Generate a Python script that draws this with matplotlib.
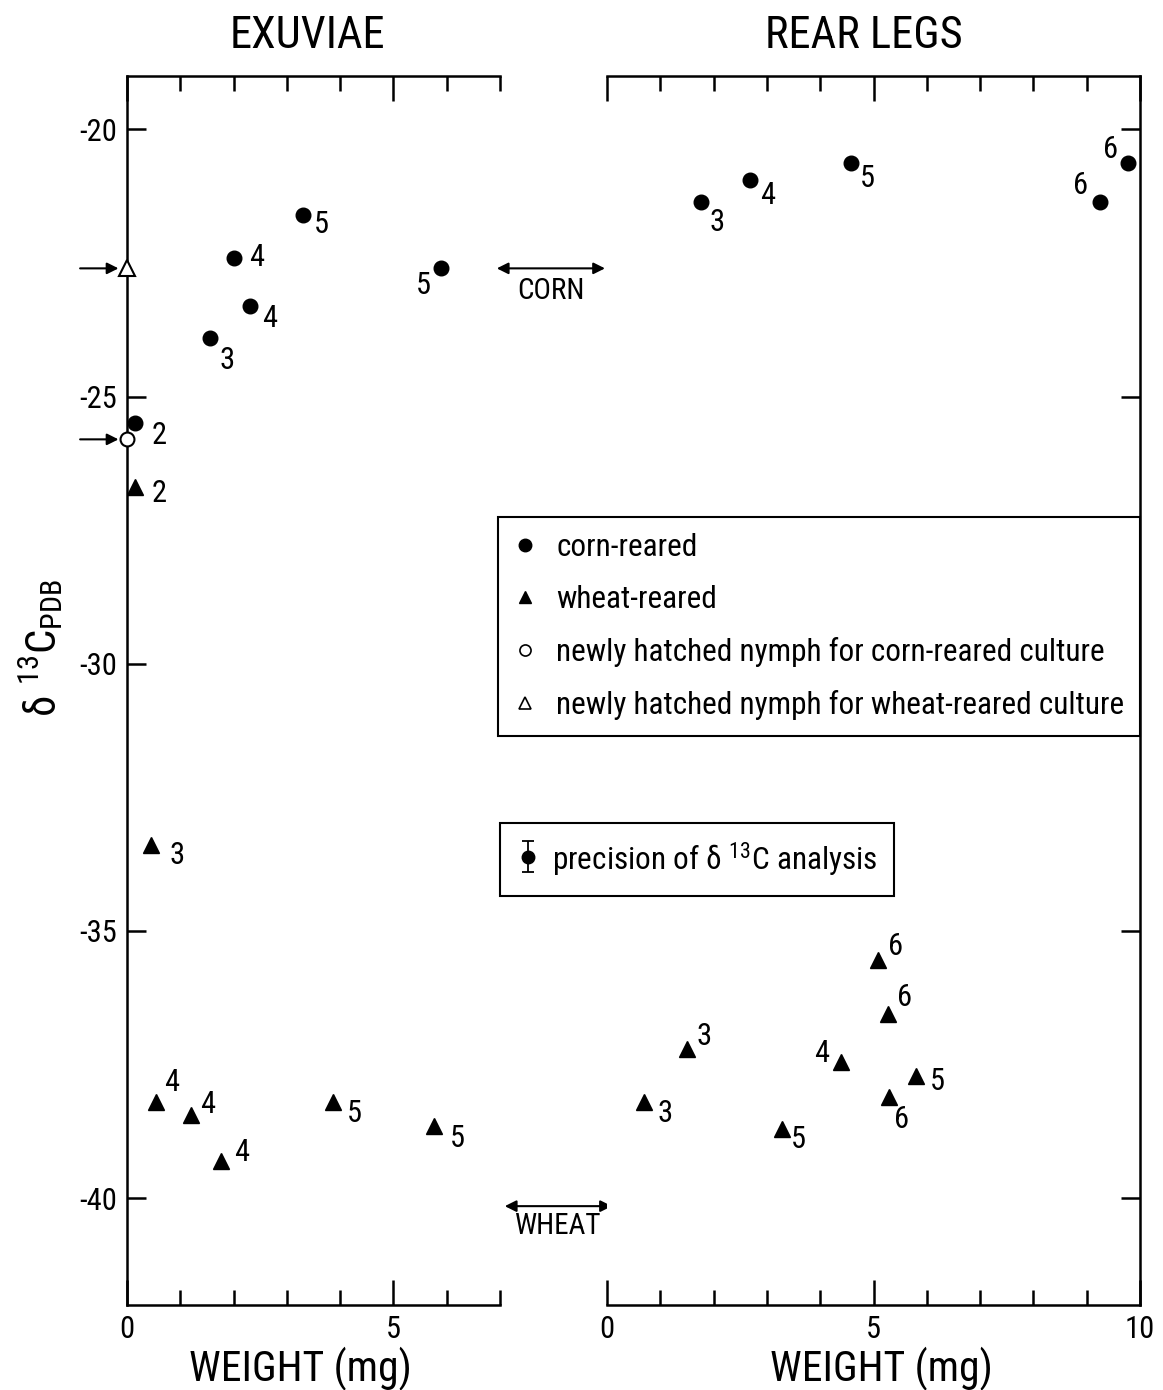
import matplotlib
matplotlib.use('Agg')
import matplotlib.pyplot as plt
from matplotlib.lines import Line2D
from matplotlib import font_manager as fm

avail = {f.name for f in fm.fontManager.ttflist}
cands = ['Roboto Condensed', 'PT Sans Narrow', 'Archivo Narrow', 'Liberation Sans Narrow',
         'Open Sans Condensed', 'Encode Sans Condensed', 'Fira Sans Condensed', 'Liberation Sans']
MAIN = next(c for c in cands if c in avail)
FONT = [MAIN, 'DejaVu Sans']
plt.rcParams['font.family'] = FONT
plt.rcParams['mathtext.fontset'] = 'custom'
plt.rcParams['mathtext.rm'] = MAIN
plt.rcParams['mathtext.it'] = MAIN + ':italic'
plt.rcParams['mathtext.bf'] = MAIN + ':bold'
plt.rcParams['axes.unicode_minus'] = False

# ---------------- data ----------------
exu_corn_w = [0.15, 1.55, 2.3, 2.0, 3.3, 5.9]
exu_corn_d = [-25.5, -23.9, -23.3, -22.4, -21.6, -22.6]
exu_corn_instar = ['2', '3', '4', '4', '5', '5']

exu_wheat_w = [0.15, 0.45, 0.55, 1.2, 1.77, 3.87, 5.77]
exu_wheat_d = [-26.7, -33.4, -38.2, -38.45, -39.3, -38.2, -38.65]
exu_wheat_instar = ['2', '3', '4', '4', '4', '5', '5']

leg_corn_w = [1.76, 2.69, 4.57, 9.25, 9.78]
leg_corn_d = [-21.35, -20.95, -20.63, -21.36, -20.62]
leg_corn_instar = ['3', '4', '5', '6', '6']

leg_wheat_w = [0.69, 1.5, 4.39, 3.29, 5.08, 5.28, 5.3, 5.8]
leg_wheat_d = [-38.2, -37.2, -37.45, -38.7, -35.55, -36.55, -38.1, -37.72]
leg_wheat_instar = ['3', '3', '4', '5', '6', '6', '6', '5']

hatch_corn_d = -25.8     # newly hatched nymph, corn culture
hatch_wheat_d = -22.6    # newly hatched nymph, wheat culture
diet_corn_d = -22.6
diet_wheat_d = -40.15
precision = 0.25

y_ticks = [-20, -25, -30, -35, -40]

# label offsets in pixels (dx right, dy down)
exu_corn_off = [(24, 12), (17, 23), (20, 13), (23, 0), (19, 10), (-18, 17)]
exu_wheat_off = [(24, 6), (26, 10), (15, -19), (17, -11), (20, -8), (21, 12), (23, 13)]
leg_corn_off = [(16, 21), (17, 15), (17, 15), (-19, -17), (-18, -13)]
leg_wheat_off = [(21, 12), (17, -12), (-19, -8), (16, 11), (18, -14), (16, -16), (12, 23), (21, 5)]

# ---------------- figure ----------------
W, H = 1163, 1390
fig = plt.figure(figsize=(W / 100, H / 100), dpi=100)
bot = 1 - 1305 / H
hgt = (1305 - 76) / H
ax1 = fig.add_axes([127 / W, bot, 373 / W, hgt])
ax2 = fig.add_axes([607 / W, bot, 533 / W, hgt])

LW = 1.8
for ax, xmax in ((ax1, 7), (ax2, 10)):
    ax.set_xlim(0, xmax)
    ax.set_ylim(-42, -19)
    for s in ax.spines.values():
        s.set_linewidth(LW)
    ax.set_yticks(y_ticks)
    ax.tick_params(axis='x', which='both', direction='in', top=True, bottom=True, width=LW)
    ax.tick_params(axis='x', which='major', length=18, pad=7, labelsize=22)
    ax.tick_params(axis='x', which='minor', length=11)
    ax.tick_params(axis='y', direction='in', length=14, width=LW, pad=7, labelsize=22)

ax1.spines['right'].set_visible(False)
ax2.spines['left'].set_visible(False)
ax1.set_xticks([0, 5])
ax1.set_xticks([1, 2, 3, 4, 6, 7], minor=True)
ax2.set_xticks([0, 5, 10])
ax2.set_xticks([1, 2, 3, 4, 6, 7, 8, 9], minor=True)
ax1.tick_params(axis='y', left=True, right=False)
ax2.tick_params(axis='y', left=False, right=True, labelleft=False, labelright=False)

MS_C, MS_T = 10.5, 11.5

def plot_series(ax, w, d, marker, ms, labels, offs):
    ax.plot(w, d, linestyle='none', marker=marker, color='k', ms=ms, clip_on=False, zorder=4)
    for x, y, lab, (dx, dy) in zip(w, d, labels, offs):
        ax.annotate(lab, (x, y), xytext=(dx, -dy), textcoords='offset pixels',
                    ha='center', va='center', fontsize=22, annotation_clip=False)

plot_series(ax1, exu_corn_w, exu_corn_d, 'o', MS_C, exu_corn_instar, exu_corn_off)
plot_series(ax1, exu_wheat_w, exu_wheat_d, '^', MS_T, exu_wheat_instar, exu_wheat_off)
plot_series(ax2, leg_corn_w, leg_corn_d, 'o', MS_C, leg_corn_instar, leg_corn_off)
plot_series(ax2, leg_wheat_w, leg_wheat_d, '^', MS_T, leg_wheat_instar, leg_wheat_off)

# newly hatched nymphs on the y axis
ax1.plot([0], [hatch_corn_d], linestyle='none', marker='o', mfc='white', mec='k', mew=1.5,
         ms=10, clip_on=False, zorder=5)
ax1.plot([0], [hatch_wheat_d], linestyle='none', marker='^', mfc='white', mec='k', mew=1.5,
         ms=11, clip_on=False, zorder=5)
for yv in (hatch_corn_d, hatch_wheat_d):
    ax1.annotate('', xy=(-0.16, yv), xytext=(-0.88, yv),
                 arrowprops=dict(arrowstyle='-|>', color='k', lw=1.5, mutation_scale=17,
                                 shrinkA=0, shrinkB=0),
                 annotation_clip=False)

# diet arrows
for yv, txt, x0, x1, ty in ((diet_corn_d, 'CORN', 6.94, 8.97, -23.03),
                             (diet_wheat_d, 'WHEAT', 7.09, 9.1, -40.52)):
    ax1.annotate('', xy=(x1, yv), xytext=(x0, yv),
                 arrowprops=dict(arrowstyle='<|-|>', color='k', lw=1.5, mutation_scale=17,
                                 shrinkA=0, shrinkB=0),
                 annotation_clip=False)
    ax1.text((x0 + x1) / 2, ty, txt, ha='center', va='center', fontsize=21, clip_on=False)

# titles and axis labels
ax1.set_title('EXUVIAE', fontsize=32, pad=20, x=0.483)
ax2.set_title('REAR LEGS', fontsize=32, pad=20, x=0.482)
ax1.set_xlabel('WEIGHT (mg)', fontsize=30)
ax2.set_xlabel('WEIGHT (mg)', fontsize=30)
ax1.xaxis.set_label_coords(0.466, -0.034)
ax2.xaxis.set_label_coords(0.514, -0.034)
fig.text(42 / W, 1 - 648 / H, r'$\mathrm{\delta}\ ^{13}\mathrm{C}_{\mathrm{PDB}}$',
         rotation=90, ha='center', va='center', fontsize=31)

# legend 1
handles = [
    Line2D([], [], linestyle='none', marker='o', color='k', ms=9),
    Line2D([], [], linestyle='none', marker='^', color='k', ms=9),
    Line2D([], [], linestyle='none', marker='o', mfc='white', mec='k', mew=1.2, ms=8),
    Line2D([], [], linestyle='none', marker='^', mfc='white', mec='k', mew=1.2, ms=8),
]
labels = ['corn-reared', 'wheat-reared',
          'newly hatched nymph for corn-reared culture',
          'newly hatched nymph for wheat-reared culture']
leg1 = fig.legend(handles, labels, loc='upper left',
                  bbox_to_anchor=(498 / W, 1 - 517 / H, (1140 - 498) / W, 0.0),
                  mode='expand', borderaxespad=0, frameon=True, fancybox=False,
                  edgecolor='k', framealpha=1, fontsize=22.5, handlelength=0.7,
                  handletextpad=0.66, labelspacing=0.74, borderpad=0.5)
leg1.get_frame().set_linewidth(1.5)

# legend 2: precision
eb = ax2.errorbar([-5], [-50], yerr=[precision], fmt='o', color='k', ms=9, capsize=4,
                  elinewidth=1.3, capthick=1.3, clip_on=True)
leg2 = fig.legend([eb], [r'precision of $\mathrm{\delta}\ ^{13}$C analysis'], loc='upper left',
                  bbox_to_anchor=(500 / W, 1 - 823 / H), borderaxespad=0, frameon=True,
                  fancybox=False, edgecolor='k', framealpha=1, fontsize=22.5,
                  handlelength=0.7, handletextpad=0.4, borderpad=0.55,
                  handleheight=1.2)
leg2.get_frame().set_linewidth(1.5)

fig.savefig('out.png', dpi=100)
